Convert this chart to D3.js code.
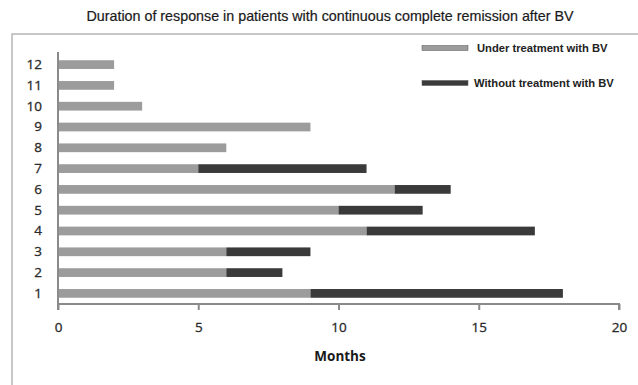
<!DOCTYPE html>
<html><head><meta charset="utf-8">
<script src="https://cdn.jsdelivr.net/npm/d3@7"></script>
<style>body{margin:0;background:#fff}svg{display:block}</style>
</head><body>
<svg id="c" width="638" height="385"></svg>
<script>
const patients = [1,2,3,4,5,6,7,8,9,10,11,12];
const underBV = [9,6,6,11,10,12,5,6,9,3,2,2];
const withoutBV = [9,2,3,6,3,2,6,0,0,0,0,0];
const xTicks = [0,5,10,15,20];
const seriesNames = ["Under treatment with BV","Without treatment with BV"];
const colors = ["#9c9c9c","#3a3a3a"];

const svg = d3.select("#c");
const x = d3.scaleLinear().domain([0,20]).range([58,619]);
const y = d3.scaleBand().domain(patients).range([304,54]).paddingInner(0.58).paddingOuter(0.3);

// frame
svg.append("path").attr("d","M12,385V34H638").attr("fill","none").attr("stroke","#b5b5b5").attr("stroke-width",1.5);

svg.append("text").attr("x",330).attr("y",21).attr("text-anchor","middle")
  .attr("font-family","Liberation Sans, Arial, sans-serif").attr("font-size",14.3).attr("fill","#1a1a1a")
  .attr("stroke","#1a1a1a").attr("stroke-width",0.2)
  .text("Duration of response in patients with continuous complete remission after BV");

const rows = patients.map((p,i)=>({p, a:underBV[i], b:withoutBV[i]}));
const g = svg.append("g");
g.selectAll("rect.a").data(rows).join("rect").attr("class","a")
  .attr("x",x(0)).attr("y",d=>y(d.p)).attr("width",d=>x(d.a)-x(0)).attr("height",y.bandwidth())
  .attr("fill",colors[0]);
g.selectAll("rect.b").data(rows.filter(d=>d.b>0)).join("rect").attr("class","b")
  .attr("x",d=>x(d.a)).attr("y",d=>y(d.p)).attr("width",d=>x(d.a+d.b)-x(d.a)).attr("height",y.bandwidth())
  .attr("fill",colors[1]);

// x axis
const xa = svg.append("g").attr("transform","translate(0,304)")
  .call(d3.axisBottom(x).tickValues(xTicks).tickSize(6).tickPadding(12));
xa.select(".domain").attr("stroke","#8a8a8a").attr("stroke-width",2).attr("d","M58,6V0H619V6");
xa.selectAll(".tick line").attr("stroke","#8a8a8a").attr("stroke-width",2);
xa.selectAll("text").attr("font-family","Open Sans, Liberation Sans, sans-serif").attr("font-size",13.5).attr("fill","#2a2a2a")
  .attr("stroke","#2a2a2a").attr("stroke-width",0.3);

// y axis
const ya = svg.append("g").attr("transform","translate(58,0)")
  .call(d3.axisLeft(y).tickSize(0).tickPadding(16));
ya.select(".domain").attr("stroke","#8a8a8a").attr("stroke-width",2).attr("d","M0,52V304");
ya.selectAll("text").attr("font-family","Open Sans, Liberation Sans, sans-serif").attr("font-size",13.5).attr("fill","#2a2a2a")
  .attr("stroke","#2a2a2a").attr("stroke-width",0.3);

svg.append("text").attr("x",340).attr("y",361).attr("text-anchor","middle")
  .attr("font-family","Open Sans, Liberation Sans, sans-serif").attr("font-size",13.5).attr("font-weight","bold").attr("fill","#1a1a1a")
  .text("Months");

// legend
const lg = svg.append("g");
[48,83].forEach((ly,i)=>{
  lg.append("rect").attr("x",422).attr("y",ly-2.5).attr("width",46).attr("height",5)
    .attr("fill",colors[i]).attr("stroke","#555").attr("stroke-width",0.5);
  lg.append("text").attr("x",i===0?477:474).attr("y",ly+4).attr("font-family","Liberation Sans, Arial, sans-serif")
    .attr("font-size",11.2).attr("font-weight","bold").attr("fill","#222").text(seriesNames[i]);
});
</script>
</body></html>
